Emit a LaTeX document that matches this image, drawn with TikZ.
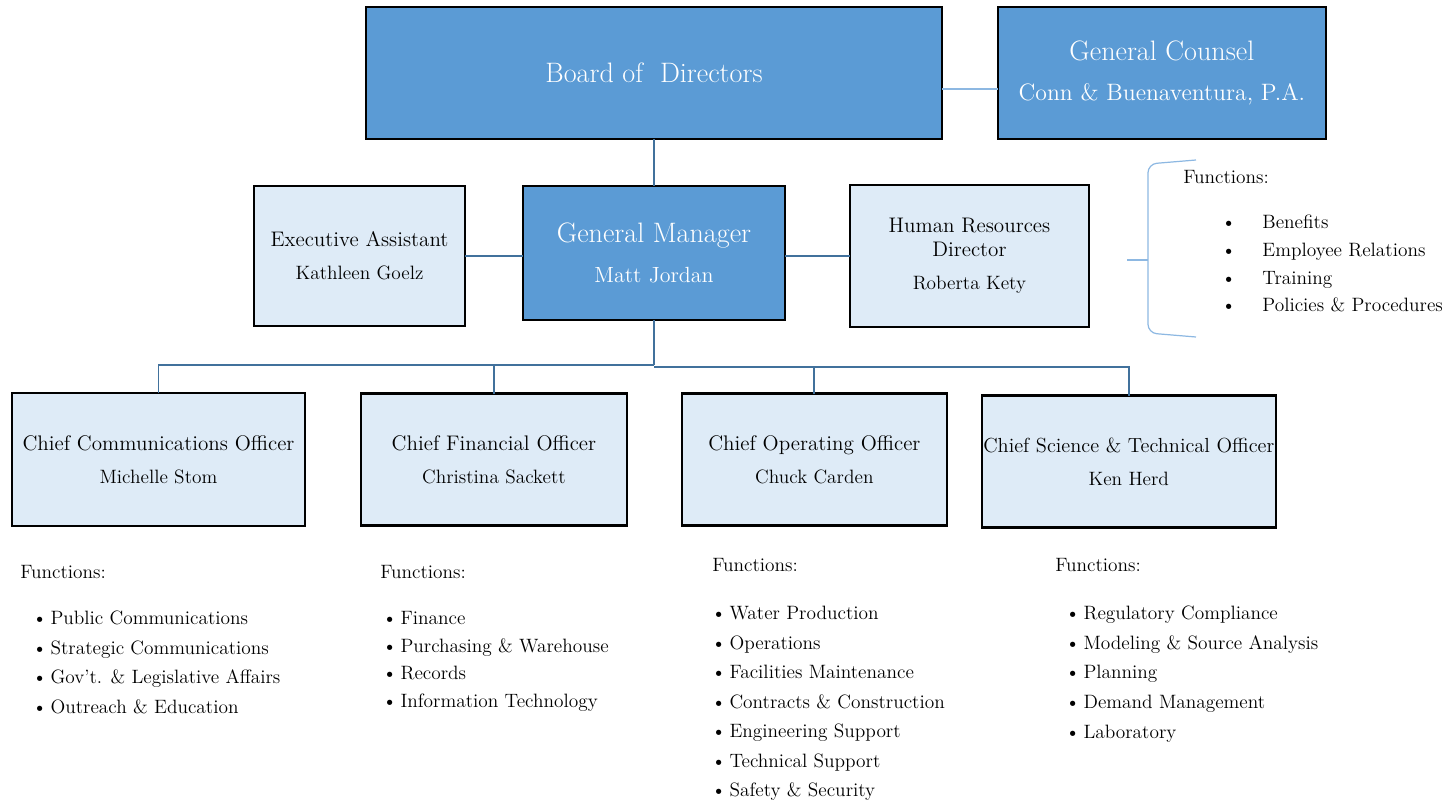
\documentclass[tikz,border=0pt]{standalone}
\usepackage{tikz}
\usetikzlibrary{positioning}

\definecolor{boardblue}{HTML}{5B9BD5}
\definecolor{paleblue}{HTML}{DEEBF7}
\definecolor{lineblue}{HTML}{41719C}
\definecolor{softblue}{HTML}{8DB8E2}

\newcommand{\bigsize}{\fontsize{16}{22.7}\selectfont}
\newcommand{\titlesize}{\fontsize{12}{18.7}\selectfont}
\newcommand{\namesize}{\fontsize{11}{18.7}\selectfont}

\tikzset{
  head/.style={draw=black,line width=1.2pt,fill=boardblue,text=white,align=center,inner sep=0pt,outer sep=0pt,font=\bigsize},
  staff/.style={draw=black,line width=1.3pt,fill=paleblue,align=center,inner sep=0pt,outer sep=0pt,font=\titlesize},
  link/.style={lineblue,line width=1.1pt},
  soft/.style={softblue,line width=0.7pt},
  fhead/.style={anchor=base west,inner sep=0pt,font=\fontsize{11}{13}\selectfont},
  flist/.style={anchor=north west,inner sep=0pt,align=left,font=\fontsize{11}{#1}\selectfont},
}

\begin{document}
\begin{tikzpicture}[x=0.02cm,y=-0.02cm]
    \useasboundingbox (0,0) rectangle (1455,804);

    % top level
    \node[head,minimum width=11.52cm,minimum height=2.64cm] (board) at (654,73) {Board of~ Directors};
    \node[head,minimum width=6.56cm,minimum height=2.64cm] (counsel) [right=1.12cm of board]
        {General Counsel\\{\fontsize{13.5}{22.7}\selectfont Conn \& Buenaventura, P.A.}};
    \node[head,minimum width=5.24cm,minimum height=2.68cm] (gm) [below=0.94cm of board]
        {General Manager\\{\fontsize{12.5}{22.7}\selectfont Matt Jordan}};
    \node[staff,minimum width=4.22cm,minimum height=2.8cm] (ea) [left=1.16cm of gm,yshift=-0.06cm]
        {Executive Assistant\\{\namesize Kathleen Goelz}};
    \node[staff,minimum width=4.78cm,minimum height=2.84cm,font=\fontsize{12}{13.6}\selectfont] (hr) [right=1.3cm of gm,yshift=-0.06cm]
        {Human Resources\\Director\\[5pt]{\namesize Roberta Kety}};

    % chiefs
    \node[staff,minimum width=5.86cm,minimum height=2.66cm] (cco) at (158.5,459.5)
        {Chief Communications Officer\\{\namesize Michelle Stom}};
    \node[staff,minimum width=5.32cm,minimum height=2.64cm] (cfo) [right=1.12cm of cco]
        {Chief Financial Officer\\{\namesize Christina Sackett}};
    \node[staff,minimum width=5.3cm,minimum height=2.64cm] (coo) [right=1.1cm of cfo]
        {Chief Operating Officer\\{\namesize Chuck Carden}};
    \node[staff,minimum width=5.88cm,minimum height=2.64cm,font=\fontsize{11.6}{18.7}\selectfont] (csto) [right=0.7cm of coo,yshift=-0.04cm]
        {Chief Science \& Technical Officer\\{\namesize Ken Herd}};

    % lines
    \path[link]
        (board) edge (gm)
        (ea) edge (ea -| gm.west)
        (hr) edge (hr -| gm.east);
    \draw[link] (gm.south) -- ++(0,45) coordinate (fork);
    \draw[link] (fork) -| (cco.north);
    \draw[link] (fork) -| (cfo.north);
    \draw[link] ([yshift=-0.04cm]fork) -| (coo.north);
    \draw[link] ([yshift=-0.04cm]fork) -| (csto.north);
    \draw[soft] ([yshift=-0.32cm]board.east) -- ([yshift=-0.32cm]counsel.west);

    % hr functions
    \coordinate (brace) at (1148,260);
    \draw[soft,rounded corners=5pt] (1196,160) -- (1148,164) -- (1148,333) -- (1196,337);
    \draw[soft] (1127,260) -- (brace);
    \node[fhead] (hrf) at (1183,184) {Functions:};
    \node[flist=15.7] (hrl) at (1221,215)
        {\textbullet\hspace{15pt}Benefits\\
         \textbullet\hspace{15pt}Employee Relations\\
         \textbullet\hspace{15pt}Training\\
         \textbullet\hspace{15pt}Policies \& Procedures};

    % chief functions
    \node[fhead] (ccof) at (20,578) {Functions:};
    \node[flist=16.8] (ccol) at (32,611)
        {\textbullet\hspace{2pt}Public Communications\\
         \textbullet\hspace{2pt}Strategic Communications\\
         \textbullet\hspace{2pt}Gov't. \& Legislative Affairs\\
         \textbullet\hspace{2pt}Outreach \& Education};

    \node[fhead] (cfof) at (380,578) {Functions:};
    \node[flist=15.7] (cfol) at (382,611)
        {\textbullet\hspace{2pt}Finance\\
         \textbullet\hspace{2pt}Purchasing \& Warehouse\\
         \textbullet\hspace{2pt}Records\\
         \textbullet\hspace{2pt}Information Technology};

    \node[fhead] (coof) at (712,571) {Functions:};
    \node[flist=16.8] (cool) at (711,606)
        {\textbullet\hspace{2pt}Water Production\\
         \textbullet\hspace{2pt}Operations\\
         \textbullet\hspace{2pt}Facilities Maintenance\\
         \textbullet\hspace{2pt}Contracts \& Construction\\
         \textbullet\hspace{2pt}Engineering Support\\
         \textbullet\hspace{2pt}Technical Support\\
         \textbullet\hspace{2pt}Safety \& Security};

    \node[fhead] (cstof) at (1055,571) {Functions:};
    \node[flist=16.8] (cstol) at (1065,606)
        {\textbullet\hspace{2pt}Regulatory Compliance\\
         \textbullet\hspace{2pt}Modeling \& Source Analysis\\
         \textbullet\hspace{2pt}Planning\\
         \textbullet\hspace{2pt}Demand Management\\
         \textbullet\hspace{2pt}Laboratory};
\end{tikzpicture}
\end{document}
